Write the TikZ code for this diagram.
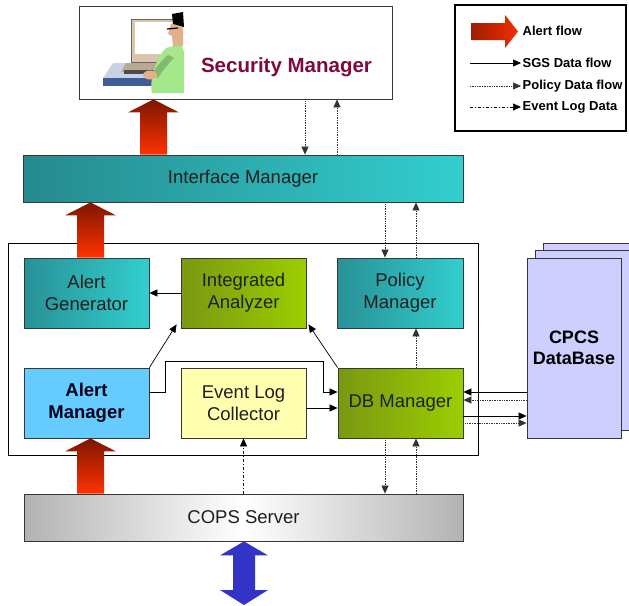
\documentclass[tikz,border=0pt]{standalone}
\usepackage{fontspec}
\setmainfont{Liberation Sans}
\usetikzlibrary{arrows.meta,calc}

\definecolor{tealdark}{RGB}{40,145,150}
\definecolor{teallight}{RGB}{51,206,206}
\definecolor{olivedark}{RGB}{122,152,18}
\definecolor{olivelight}{RGB}{155,206,0}
\definecolor{amblue}{RGB}{102,204,255}
\definecolor{elyellow}{RGB}{255,255,175}
\definecolor{dbviolet}{RGB}{206,206,255}
\definecolor{alertdark}{RGB}{125,22,0}
\definecolor{alertbright}{RGB}{255,50,0}
\definecolor{smred}{RGB}{128,10,60}
\definecolor{extblue}{RGB}{50,52,200}
\definecolor{boxline}{RGB}{55,55,55}
\definecolor{deskgray}{RGB}{200,210,226}
\definecolor{deskblue}{RGB}{62,92,150}
\definecolor{monbeige}{RGB}{218,198,172}
\definecolor{shirtgreen}{RGB}{165,232,140}
\definecolor{skin}{RGB}{226,176,140}

\tikzset{
  box/.style={draw=boxline, line width=0.8pt, minimum width=125pt, minimum height=70pt,
    align=center, font=\fontsize{18.5}{22}\selectfont, text=black!88, inner sep=2pt},
  tealbox/.style={box, left color=tealdark, right color=teallight},
  greenbox/.style={box, left color=olivedark, right color=olivelight},
  dbpage/.style={draw=boxline, line width=0.8pt, fill=dbviolet, minimum width=94pt,
    minimum height=180pt, align=center, font=\fontsize{18}{21}\selectfont\bfseries},
  sgs/.style={draw=black, line width=0.7pt, -{Triangle[length=8pt,width=7pt]}},
  policy/.style={sgs, draw=black!80, densely dotted},
  eventlog/.style={sgs, dash pattern=on 3pt off 2pt on 1pt off 2pt},
  legendtext/.style={anchor=west, inner sep=1.5pt, font=\fontsize{13}{15}\selectfont\bfseries},
}

% fat vertical alert arrow: x of its axis, start anchor (tail), end anchor (tip)
\newcommand{\alertup}[3]{%
  \path (#1,0 |- #2) coordinate (au-s) (#1,0 |- #3) coordinate (au-e);
  \shade[top color=alertdark, bottom color=alertbright]
    let \p1=(au-s), \p2=(au-e) in
    (\x1-13.5pt,\y1) -- (\x1-13.5pt,\y2-13pt) -- (\x1-25.5pt,\y2-13pt) -- (\x1,\y2)
    -- (\x1+25.5pt,\y2-13pt) -- (\x1+13.5pt,\y2-13pt) -- (\x1+13.5pt,\y1) -- cycle;}

\begin{document}
\begin{tikzpicture}[x=1pt,y=-1pt]
\useasboundingbox (0,0) rectangle (629,605);
\clip (0,0) rectangle (629,605);

% ---------- Security Manager ----------
\node[draw=boxline, line width=0.8pt, fill=white, minimum width=313pt, minimum height=93pt]
  (sm) at (235.5,52.5) {};
\node[font=\fontsize{20.5}{24}\selectfont\bfseries, text=smred] (smlabel) at (286.5,67) {Security Manager};

% operator at the console
\fill[deskgray] (103,78) -- (113,63) -- (168,63) -- (168,78) -- cycle;
\fill[deskblue] (103,78) rectangle (168,86);
\fill[monbeige] (131,19) rectangle (179,62);
\fill[white] (135,22) rectangle (175,54);
\draw[black!60, line width=0.5pt] (131,19) rectangle (179,62);
\fill[monbeige!85!black] (121,72) -- (126,63) -- (162,63) -- (160,72) -- cycle;
\fill[black!70] (124,70) rectangle (158,74);
\fill[shirtgreen] (152,93) .. controls (149,80) and (156,58) .. (166,48) -- (181,44)
  -- (184,52) -- (184,93) -- cycle;
\fill[shirtgreen!80!black] (168,55) .. controls (160,62) and (156,68) .. (152,74)
  -- (158,78) .. controls (163,70) and (168,64) .. (174,58) -- cycle;
\fill[skin] (150,75) ellipse (7 and 4.5);
\fill[skin] (171,24) -- (183,22) -- (183,46) -- (173,46) -- (172,36) -- (168,34) -- cycle;
\fill[black] (172,14) -- (183,12) -- (184,27) -- (177,25) -- (173,24) -- cycle;
\draw[black, line width=1.2pt] (167,29) -- (178,28);

% ---------- legend ----------
\node[draw=black, line width=1.2pt, fill=white, minimum width=171pt, minimum height=126pt]
  (legend) at (540.5,68) {};
\shade[left color=alertdark!75!alertbright, right color=alertbright!90!alertdark]
  (471,23) -- (505,23) -- (505,15) -- (518,31.5) -- (505,48) -- (505,40) -- (471,40) -- cycle;
\node[legendtext] (lg1) at (521,31) {Alert flow};
\node[legendtext] (lg2) at (521,63) {SGS Data flow};
\node[legendtext] (lg3) at (521,86) {Policy Data flow};
\node[legendtext] (lg4) at (521,107) {Event Log Data};
\coordinate (ls2) at (470,63);
\coordinate (ls3) at (470,86);
\coordinate (ls4) at (470,107);
\draw[sgs] (ls2) -- (lg2.west);
\draw[policy] (ls3) -- (lg3.west);
\draw[eventlog] (ls4) -- (lg4.west);

% ---------- Interface Manager ----------
\node[box, left color=tealdark!95!black, right color=teallight, minimum width=440pt, minimum height=47pt,
  font=\fontsize{18.5}{22}\selectfont] (im) at (243,178.5) {Interface Manager};

% ---------- core container and its modules ----------
\node[draw=black, line width=0.8pt, fill=white, minimum width=470pt, minimum height=212pt]
  (core) at (243,349) {};
\node[tealbox] (ag) at (86.5,293) {Alert\\Generator};
\node[greenbox] (ia) at (243.5,293) {Integrated\\Analyzer};
\node[tealbox, minimum width=126pt] (pm) at (400,293) {Policy\\Manager};
\node[box, fill=amblue, font=\fontsize{18.5}{22}\selectfont\bfseries, text=black!90!blue] (am) at (86.5,403) {Alert\\Manager};
\node[box, fill=elyellow] (el) at (243.5,403) {Event Log\\Collector};
\node[greenbox] (db) at (400.5,403) {DB Manager};

% ---------- CPCS DataBase ----------
\node[dbpage] (cpcs3) at (590,333) {};
\node[dbpage] (cpcs2) at (582,340.5) {};
\node[dbpage] (cpcs) at (574,348) {CPCS\\DataBase};

% ---------- COPS Server ----------
\node[box, left color=gray!60, right color=gray!60, middle color=white, minimum width=439pt,
  minimum height=47pt] (cops) at (243.5,517.5) {COPS Server};
\coordinate (ext) at (244,605);

% ---------- alert flow ----------
\alertup{153.5}{im.north}{sm.south}
\alertup{90.5}{ag.north}{im.south}
\alertup{90.5}{cops.north}{am.south}

% ---------- external link of the COPS Server ----------
\fill[extblue] let \p1=(cops.south -| ext), \p2=(ext) in
  (\x1,\y1) -- (\x1+24pt,\y1-14pt) -- (\x1+11pt,\y1-14pt) -- (\x1+11pt,\y2+15pt)
  -- (\x1+24pt,\y2+15pt) -- (\x1,\y2) -- (\x1-24pt,\y2+15pt) -- (\x1-11pt,\y2+15pt)
  -- (\x1-11pt,\y1-14pt) -- (\x1-24pt,\y1-14pt) -- cycle;

% ---------- SGS data flow ----------
\draw[sgs] (ia.west) -- (ag.east);
\draw[sgs] (am.north east) -- ([xshift=-4pt,yshift=4pt]ia.south west);
\draw[sgs] (db.north west) -- ([xshift=2pt,yshift=4pt]ia.south east);
\draw[sgs] (am.east |- 0,392) -- (165,392) -- (165,361) -- (323,361) -- (323,392) -- (db.west |- 0,392);
\draw[sgs] (el.east |- 0,408) -- (db.west |- 0,408);
\draw[sgs] (cpcs.west |- 0,392) -- (db.east |- 0,392);
\draw[sgs] (db.east |- 0,416) -- (cpcs.west |- 0,416);

% ---------- policy data flow ----------
\draw[policy] (305,0 |- sm.south) -- (305,0 |- im.north);
\draw[policy] (337,0 |- im.north) -- (337,0 |- sm.south);
\draw[policy] (385,0 |- im.south) -- (385,0 |- pm.north);
\draw[policy] (416,0 |- pm.north) -- (416,0 |- im.south);
\draw[policy] (416,0 |- db.north) -- (416,0 |- pm.south);
\draw[policy] (385,0 |- db.south) -- (385,0 |- cops.north);
\draw[policy] (416,0 |- cops.north) -- (416,0 |- db.south);
\draw[policy] (cpcs.west |- 0,400) -- (db.east |- 0,400);
\draw[policy] (db.east |- 0,423) -- (cpcs.west |- 0,423);

% ---------- event log data ----------
\draw[eventlog] (243.5,0 |- cops.north) -- (243.5,0 |- el.south);
\end{tikzpicture}
\end{document}
